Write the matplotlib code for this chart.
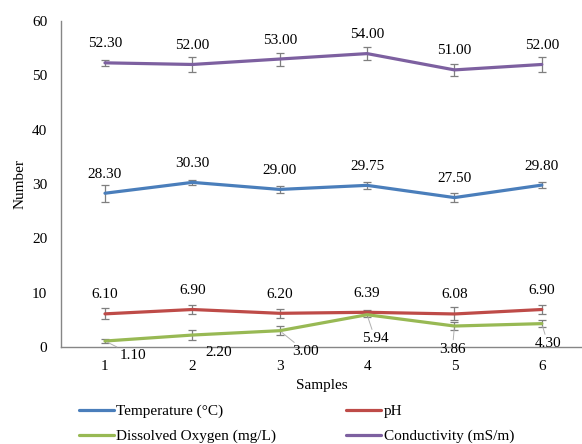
import matplotlib
matplotlib.use("Agg")
import matplotlib.pyplot as plt

samples = [1, 2, 3, 4, 5, 6]
temperature = [28.30, 30.30, 29.00, 29.75, 27.50, 29.80]
ph = [6.10, 6.90, 6.20, 6.39, 6.08, 6.90]
dissolved_oxygen = [1.10, 2.20, 3.00, 5.94, 3.86, 4.30]
conductivity = [52.30, 52.00, 53.00, 54.00, 51.00, 52.00]

temperature_err = [1.6, 0.5, 0.6, 0.6, 0.8, 0.6]
ph_err = [1.0, 0.8, 0.8, 0.4, 1.2, 0.8]
do_err = [0.3, 1.0, 0.8, 0.5, 0.8, 0.6]
conductivity_err = [0.6, 1.3, 1.2, 1.2, 1.1, 1.4]

labels = ["Temperature (\u00b0C)", "pH", "Dissolved Oxygen (mg/L)", "Conductivity (mS/m)"]
colors = ["#4A7EBB", "#BE4B48", "#98B954", "#7D60A0"]

# DO label offsets in pixels (dx, dy) relative to point
do_offsets = [(28, -14), (26, -17), (26, -21), (8, -24), (-2, -23), (6, -20)]
do_leader = [True, False, True, True, True, True]

plt.rcParams['font.family'] = ['Liberation Serif', 'DejaVu Serif']
fs = 11

fig = plt.figure(figsize=(5.82, 4.44), dpi=100)
ax = fig.add_axes([61.3 / 582, (444 - 347) / 444, (582 - 61.3) / 582, 326 / 444])

series = [(temperature, temperature_err), (ph, ph_err), (dissolved_oxygen, do_err), (conductivity, conductivity_err)]
handles = []
for (vals, errs), lab, col in zip(series, labels, colors):
    ax.errorbar(samples, vals, yerr=errs, fmt='none', ecolor='#7f7f7f', elinewidth=0.9,
                capsize=3, capthick=0.9, zorder=2)
    h, = ax.plot(samples, vals, color=col, lw=2.3, label=lab, zorder=3, solid_capstyle='round')
    handles.append(h)

for vals in (temperature, ph, conductivity):
    for x, v in zip(samples, vals):
        ax.annotate(f"{v:.2f}", (x, v), xytext=(0, 19), textcoords='offset pixels',
                    ha='center', va='center', fontsize=fs, color='black')

for x, v, (dx, dy), lead in zip(samples, dissolved_oxygen, do_offsets, do_leader):
    ap = dict(arrowstyle='-', color='#b0b0b0', lw=0.7, shrinkA=0, shrinkB=2) if lead else None
    ax.annotate(f"{v:.2f}", (x, v), xytext=(dx, dy), textcoords='offset pixels',
                ha='center', va='center', fontsize=fs, color='black', arrowprops=ap)

ax.set_xlim(0.5, 6.46)
ax.set_ylim(0, 60)
ax.set_xticks(samples)
ax.set_yticks(range(0, 61, 10))
ax.tick_params(axis='both', length=0, labelsize=fs)
ax.tick_params(axis='y', pad=10)
ax.tick_params(axis='x', pad=9)
for s in ('top', 'right'):
    ax.spines[s].set_visible(False)
for s in ('left', 'bottom'):
    ax.spines[s].set_color('#868686')
    ax.spines[s].set_linewidth(1.0)

ax.set_xlabel("Samples", fontsize=fs, labelpad=5)
ax.set_ylabel("Number", fontsize=fs, labelpad=4)

order = [0, 2, 1, 3]
fig.legend([handles[i] for i in order], [labels[i] for i in order], ncol=2,
           loc='upper left', bbox_to_anchor=(74 / 582, 1 - 400 / 444),
           frameon=False, fontsize=fs, handlelength=2.3, handletextpad=0.15,
           columnspacing=4.6, labelspacing=0.72, borderaxespad=0, borderpad=0.3)

fig.savefig("out.png", dpi=100)
